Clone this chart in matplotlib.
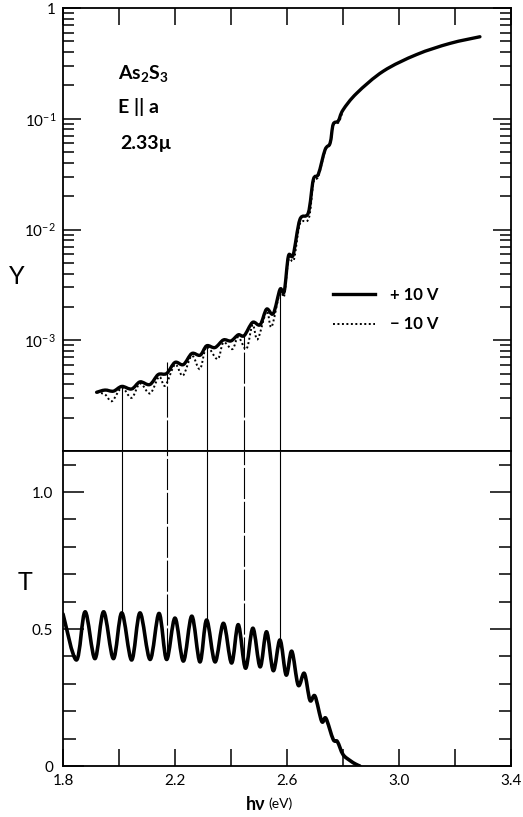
import matplotlib
matplotlib.use("Agg")
import matplotlib.pyplot as plt
import numpy as np
from matplotlib.path import Path
from matplotlib.patches import PathPatch
from matplotlib.lines import Line2D
from matplotlib.ticker import (FixedLocator, FixedFormatter, LogLocator,
                               NullFormatter, MultipleLocator, FuncFormatter)

plt.rcParams["font.family"] = ["Lato", "DejaVu Sans"]
plt.rcParams["mathtext.default"] = "regular"

# ── data ──
# transmission T (lower panel)
t_ev = [1.800, 1.848, 1.879, 1.914, 1.945, 1.980, 2.010, 2.045, 2.075, 2.111,
        2.143, 2.170, 2.200, 2.230, 2.260, 2.289, 2.313, 2.343, 2.373, 2.402,
        2.426, 2.452, 2.478, 2.504, 2.527, 2.551, 2.575, 2.597, 2.617, 2.640,
        2.662, 2.682, 2.700, 2.724, 2.739, 2.765, 2.780, 2.800, 2.825, 2.845, 2.860]
t_val = [0.555, 0.387, 0.563, 0.392, 0.563, 0.392, 0.559, 0.387, 0.559, 0.389,
         0.557, 0.389, 0.540, 0.383, 0.547, 0.380, 0.533, 0.380, 0.521, 0.376,
         0.516, 0.357, 0.503, 0.362, 0.490, 0.348, 0.460, 0.332, 0.419, 0.295,
         0.338, 0.240, 0.255, 0.163, 0.174, 0.097, 0.089, 0.042, 0.020, 0.007, 0.0]

# photoyield Y, +10 V (solid)
yp_ev = [1.920, 1.950, 1.980, 2.010, 2.045, 2.075, 2.110, 2.140, 2.170, 2.200,
         2.230, 2.260, 2.290, 2.313, 2.343, 2.373, 2.400, 2.426, 2.447, 2.477,
         2.504, 2.527, 2.551, 2.575, 2.590, 2.605, 2.622, 2.646, 2.676, 2.694,
         2.712, 2.736, 2.754, 2.765, 2.783, 2.800, 2.849, 2.944, 3.063, 3.182, 3.289]
yp_val = [3.39e-4, 3.55e-4, 3.47e-4, 3.83e-4, 3.63e-4, 4.21e-4, 3.98e-4, 4.90e-4, 5.01e-4, 6.31e-4,
          6.03e-4, 7.59e-4, 7.33e-4, 8.91e-4, 8.59e-4, 1.007e-3, 9.86e-4, 1.12e-3, 1.10e-3, 1.45e-3,
          1.38e-3, 1.91e-3, 1.74e-3, 2.88e-3, 2.75e-3, 5.75e-3, 5.89e-3, 1.23e-2, 1.41e-2, 2.82e-2,
          3.16e-2, 5.25e-2, 6.03e-2, 8.91e-2, 9.55e-2, 0.120, 0.170, 0.269, 0.380, 0.479, 0.550]

# photoyield Y, -10 V (dotted)
ym_ev = [1.920, 1.950, 1.975, 2.010, 2.045, 2.075, 2.111, 2.143, 2.165, 2.200,
         2.228, 2.260, 2.289, 2.313, 2.352, 2.373, 2.405, 2.426, 2.455, 2.477,
         2.495, 2.527, 2.545, 2.575, 2.590, 2.605, 2.625, 2.646, 2.678, 2.694,
         2.712, 2.736, 2.754, 2.765, 2.785, 2.800]
ym_val = [3.39e-4, 3.24e-4, 2.82e-4, 3.72e-4, 3.02e-4, 4.07e-4, 3.31e-4, 4.68e-4, 3.89e-4, 6.03e-4,
          4.79e-4, 7.24e-4, 5.50e-4, 8.71e-4, 6.76e-4, 9.55e-4, 8.32e-4, 1.07e-3, 8.32e-4, 1.38e-3,
          1.02e-3, 1.82e-3, 1.32e-3, 2.75e-3, 2.51e-3, 5.25e-3, 5.37e-3, 1.12e-2, 1.26e-2, 2.63e-2,
          3.02e-2, 5.13e-2, 5.89e-2, 8.71e-2, 9.33e-2, 0.120]

# vertical guide lines linking Y and T
link_ev = [2.010, 2.170, 2.313, 2.447, 2.575]
link_y = [3.83e-4, 6.3e-4, 8.8e-4, 1.09e-3, 2.88e-3]
link_t = [0.559, 0.389, 0.533, 0.357, 0.460]
link_broken = [False, True, False, True, False]

X_MIN, X_MAX = 1.8, 3.4
Y_MIN, Y_MAX = 1e-4, 1.0
T_MIN, T_MAX = 0.0, 1.15


def smooth_path(xs, ys, logy=False):
    """Catmull-Rom spline through the points, as a Bezier path."""
    x = np.asarray(xs, float)
    y = np.log10(ys) if logy else np.asarray(ys, float)
    pts = np.column_stack([x, y])
    p = np.vstack([pts[0], pts, pts[-1]])
    verts = [pts[0]]
    codes = [Path.MOVETO]
    for i in range(1, len(p) - 2):
        p0, p1, p2, p3 = p[i - 1], p[i], p[i + 1], p[i + 2]
        verts += [p1 + (p2 - p0) / 6, p2 - (p3 - p1) / 6, p2]
        codes += [Path.CURVE4] * 3
    verts = np.array(verts)
    if logy:
        verts[:, 1] = 10 ** verts[:, 1]
    return Path(verts, codes)


W, H = 523, 817
fig = plt.figure(figsize=(W / 100, H / 100), dpi=100)
ax1 = fig.add_axes([63 / W, 1 - 451 / H, 448 / W, 443 / H])
ax2 = fig.add_axes([63 / W, 1 - 766 / H, 448 / W, 315 / H])

for ax in (ax1, ax2):
    for s in ax.spines.values():
        s.set_linewidth(1.3)
    ax.set_xlim(X_MIN, X_MAX)

# ── top panel: Y (log) ──
ax1.set_yscale("log")
ax1.set_ylim(Y_MIN, Y_MAX)
ax1.yaxis.set_major_locator(FixedLocator([1e-4, 1e-3, 1e-2, 1e-1, 1]))
ax1.yaxis.set_major_formatter(FixedFormatter(["", "$10^{-3}$", "$10^{-2}$", "$10^{-1}$", "1"]))
ax1.yaxis.set_minor_locator(LogLocator(base=10, subs=np.arange(2, 10)))
ax1.yaxis.set_minor_formatter(NullFormatter())
ax1.xaxis.set_major_locator(MultipleLocator(0.2))
ax1.tick_params(axis="x", which="both", direction="in", top=True, bottom=False,
                labeltop=False, labelbottom=False, length=12, width=1.1)
ax1.tick_params(axis="y", which="major", direction="in", left=True, right=True,
                length=13, width=1.1, labelsize=11, pad=5)
ax1.tick_params(axis="y", which="minor", direction="in", left=True, right=True,
                length=8, width=1.1)

ax1.add_patch(PathPatch(smooth_path(ym_ev, ym_val, logy=True), fill=False,
                        edgecolor="black", lw=1.4, linestyle=(0, (1, 1.3))))
ax1.add_patch(PathPatch(smooth_path(yp_ev, yp_val, logy=True), fill=False,
                        edgecolor="black", lw=2.4, joinstyle="round", capstyle="round"))

handles = [Line2D([], [], color="black", lw=2.4),
           Line2D([], [], color="black", lw=1.4, linestyle=(0, (1, 1.3)))]
ax1.legend(handles, ["+ 10 V", "\u2212 10 V"], loc="upper left", frameon=False,
           bbox_to_anchor=(333 / W, 1 - 287 / H), bbox_transform=fig.transFigure,
           prop={"size": 12, "weight": "bold"}, handlelength=2.5, handletextpad=0.9,
           labelspacing=0.8, borderpad=0, borderaxespad=0)

# ── bottom panel: T ──
ax2.set_ylim(T_MIN, T_MAX)
ax2.yaxis.set_major_locator(FixedLocator([0, 0.5, 1.0]))
ax2.yaxis.set_major_formatter(FixedFormatter(["0", "0.5", "1.0"]))
ax2.yaxis.set_minor_locator(MultipleLocator(0.1))
ax2.xaxis.set_major_locator(MultipleLocator(0.2))
ax2.xaxis.set_major_formatter(FuncFormatter(
    lambda v, _: f"{v:.1f}" if abs((v - 1.8) / 0.4 - round((v - 1.8) / 0.4)) < 1e-6 else ""))
ax2.tick_params(axis="x", which="both", direction="in", top=False, bottom=True,
                length=12, width=1.1, labelsize=11, pad=6)
ax2.tick_params(axis="y", which="major", direction="in", left=True, right=True,
                length=15, width=1.1, labelsize=11, pad=7)
ax2.tick_params(axis="y", which="minor", direction="in", left=True, right=True,
                length=9, width=1.1)

ax2.add_patch(PathPatch(smooth_path(t_ev, t_val), fill=False, edgecolor="black",
                        lw=2.6, joinstyle="round", capstyle="round"))

# guide lines
for e, yv, tv, broken in zip(link_ev, link_y, link_t, link_broken):
    ls = (0, (28, 2.5)) if broken else "-"
    ax1.vlines(e, Y_MIN, yv, colors="black", lw=0.8, linestyles=ls)
    ax2.vlines(e, tv, T_MAX, colors="black", lw=0.8, linestyles=ls)

# ── texts ──
fig.text(118 / W, 1 - 73 / H, "As$_2$S$_3$", fontsize=14, fontweight="bold", va="center")
fig.text(118 / W, 1 - 107 / H, "E || a", fontsize=14, fontweight="bold", va="center")
fig.text(120 / W, 1 - 143 / H, "2.33\u00b5", fontsize=14, fontweight="bold", va="center")
fig.text(17 / W, 1 - 277 / H, "Y", fontsize=18, ha="center", va="center")
fig.text(25 / W, 1 - 582 / H, "T", fontsize=18, ha="center", va="center")
fig.text(246 / W, 1 - 805 / H, "h\u03bd", fontsize=13, fontweight="bold", va="center")
fig.text(268 / W, 1 - 804 / H, "(eV)", fontsize=10, va="center")

fig.savefig("out.png", dpi=100)
